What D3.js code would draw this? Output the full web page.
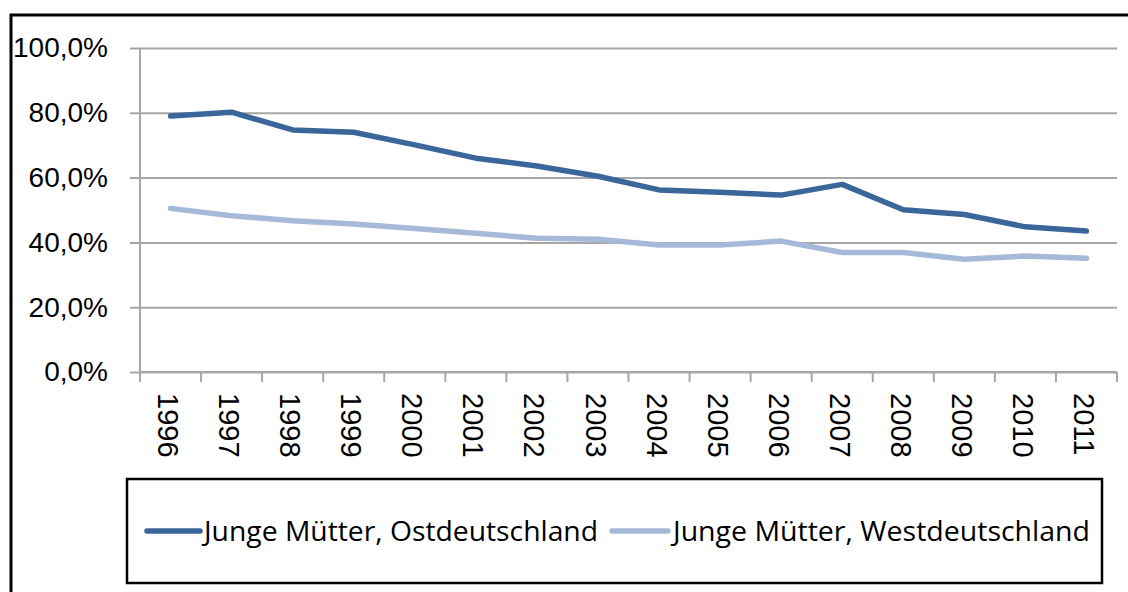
<!DOCTYPE html>
<html>
<head>
<meta charset="utf-8">
<script src="https://cdn.jsdelivr.net/npm/d3@7"></script>
<style>
  body { margin: 0; background: #fff; }
  svg { display: block; }
</style>
</head>
<body>
<div id="chart"></div>
<script>
// data
const years = ["1996","1997","1998","1999","2000","2001","2002","2003","2004","2005","2006","2007","2008","2009","2010","2011"];
const ost = [79.0, 80.2, 74.7, 74.0, 70.1, 66.0, 63.6, 60.4, 56.2, 55.5, 54.6, 57.9, 50.1, 48.6, 44.8, 43.5];
const west = [50.5, 48.2, 46.7, 45.7, 44.3, 42.8, 41.3, 41.0, 39.2, 39.2, 40.4, 36.9, 36.9, 34.8, 35.8, 35.1];
const yTicks = [0, 20, 40, 60, 80, 100];
const seriesNames = ["Junge Mütter, Ostdeutschland", "Junge Mütter, Westdeutschland"];
const colors = ["#3b6699", "#a7b9d9"];

const width = 1128, height = 592;
const plot = { left: 140, right: 1117, top: 48, bottom: 372 };

var svg = d3.select("#chart").append("svg")
    .attr("width", width)
    .attr("height", height);

// outer chart border (only top and left visible)
svg.append("rect")
    .attr("x", 11).attr("y", 15)
    .attr("width", 1140).attr("height", 600)
    .attr("fill", "none")
    .attr("stroke", "#000")
    .attr("stroke-width", 3);

var x = d3.scaleBand().domain(years).range([plot.left, plot.right]);
var y = d3.scaleLinear().domain([0, 100]).range([plot.bottom, plot.top]);

const fmt = v => d3.format(".1f")(v).replace(".", ",") + "%";

// gridlines + y axis
var yAxis = d3.axisLeft(y)
    .tickValues(yTicks)
    .tickSize(-(plot.right - plot.left))
    .tickPadding(32)
    .tickFormat(fmt);
var gy = svg.append("g")
    .attr("transform", "translate(" + plot.left + ",0)")
    .call(yAxis);
gy.select(".domain").remove();
gy.selectAll(".tick line")
    .attr("x1", -10)
    .attr("stroke", "#a6a6a6")
    .attr("stroke-width", 2);
gy.selectAll(".tick text")
    .attr("font-family", "Liberation Sans, Arial, sans-serif")
    .attr("font-size", 28)
    .attr("fill", "#000");

// vertical axis line
svg.append("line")
    .attr("x1", plot.left).attr("x2", plot.left)
    .attr("y1", plot.top).attr("y2", plot.bottom + 10)
    .attr("stroke", "#a6a6a6").attr("stroke-width", 2);

// x axis: ticks between categories
var bounds = years.map(d => x(d)).concat([plot.right]);
svg.append("line")
    .attr("x1", plot.left).attr("x2", plot.right)
    .attr("y1", plot.bottom).attr("y2", plot.bottom)
    .attr("stroke", "#a6a6a6").attr("stroke-width", 2);
svg.selectAll(".xtick")
    .data(bounds)
    .enter().append("line")
    .attr("class", "xtick")
    .attr("x1", d => d).attr("x2", d => d)
    .attr("y1", plot.bottom).attr("y2", plot.bottom + 10)
    .attr("stroke", "#a6a6a6").attr("stroke-width", 2);

svg.selectAll(".xlabel")
    .data(years)
    .enter().append("text")
    .attr("class", "xlabel")
    .attr("transform", d => "translate(" + (x(d) + x.bandwidth() / 2 - 2) + "," + (plot.bottom + 21) + ") rotate(90)")
    .attr("dy", "0.36em")
    .attr("font-family", "Liberation Sans, Arial, sans-serif")
    .attr("font-size", 29)
    .text(d => d);

// lines
var line = d3.line()
    .x((d, i) => x(years[i]) + x.bandwidth() / 2)
    .y(d => y(d));

[ost, west].forEach(function(s, k) {
    svg.append("path")
        .datum(s)
        .attr("fill", "none")
        .attr("stroke", colors[k])
        .attr("stroke-width", 5.5)
        .attr("stroke-linejoin", "round")
        .attr("stroke-linecap", "round")
        .attr("d", line);
});

// legend
svg.append("rect")
    .attr("x", 127).attr("y", 479)
    .attr("width", 975).attr("height", 104)
    .attr("fill", "none")
    .attr("stroke", "#000")
    .attr("stroke-width", 2.5);

const legendItems = [
    { x1: 147, x2: 200, tx: 204, tw: 394 },
    { x1: 612, x2: 668, tx: 673, tw: 417 }
];
legendItems.forEach(function(li, k) {
    svg.append("line")
        .attr("x1", li.x1).attr("x2", li.x2)
        .attr("y1", 531).attr("y2", 531)
        .attr("stroke", colors[k])
        .attr("stroke-width", 5.5)
        .attr("stroke-linecap", "round");
    svg.append("text")
        .attr("x", li.tx).attr("y", 531)
        .attr("dy", "0.35em")
        .attr("font-family", "Open Sans, sans-serif")
        .attr("font-size", 28)
        .attr("textLength", li.tw)
        .attr("lengthAdjust", "spacingAndGlyphs")
        .text(seriesNames[k]);
});
</script>
</body>
</html>
